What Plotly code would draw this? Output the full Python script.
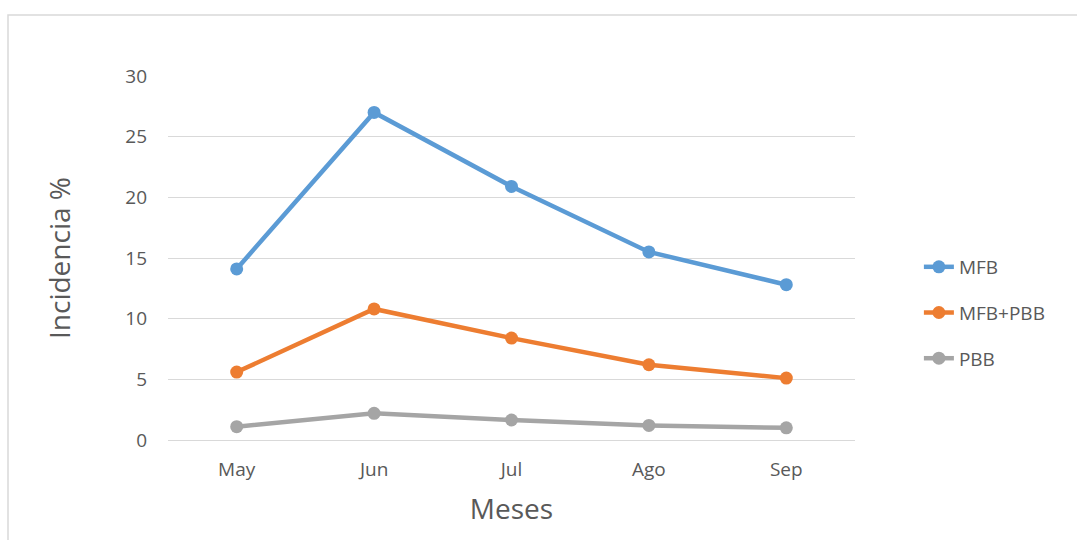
import plotly.graph_objects as go

months = ["May", "Jun", "Jul", "Ago", "Sep"]
mfb = [14.1, 27.0, 20.9, 15.5, 12.8]
mfb_pbb = [5.6, 10.8, 8.4, 6.2, 5.1]
pbb = [1.1, 2.2, 1.65, 1.2, 1.0]

series = [("MFB", mfb, "#5b9bd5"), ("MFB+PBB", mfb_pbb, "#ed7d31"), ("PBB", pbb, "#a5a5a5")]

fig = go.Figure()
for i, (name, vals, col) in enumerate(series):
    fig.add_trace(go.Scatter(
        x=months, y=vals, name=name, mode="lines+markers",
        line=dict(color=col, width=4.5),
        marker=dict(color=col, size=13),
        legendgroup=f"g{i}",
    ))

font = "Open Sans, Liberation Sans, sans-serif"
fig.update_layout(
    width=1077, height=540,
    margin=dict(l=168, r=222, t=76, b=100, autoexpand=False),
    paper_bgcolor="white", plot_bgcolor="white",
    font=dict(family=font, color="#595959", size=19),
    showlegend=True,
    legend=dict(x=1.093, y=0.349, xanchor="left", yanchor="middle",
                font=dict(size=19, color="#595959"), tracegroupgap=18,
                bgcolor="rgba(0,0,0,0)"),
    xaxis=dict(type="category", range=[-0.5, 4.5], showgrid=False, showline=False,
               ticks="", ticklabelstandoff=16, tickfont=dict(size=19, color="#595959"),
               title=dict(text="Meses", font=dict(size=28, color="#595959"), standoff=18)),
    yaxis=dict(range=[0, 30], dtick=5, showgrid=True, gridcolor="#d9d9d9", gridwidth=1,
               zeroline=True, zerolinecolor="#d9d9d9", zerolinewidth=1,
               showline=False, ticks="", ticklabelstandoff=20,
               tickfont=dict(size=19, color="#595959"),
               title=dict(text="Incidencia %", font=dict(size=28, color="#595959"), standoff=46)),
    shapes=[dict(type="rect", xref="paper", yref="paper",
                 x0=(8-168)/687, x1=(1085-168)/687, y0=(440-550)/364, y1=(440-15)/364,
                 line=dict(color="#d9d9d9", width=1.5), fillcolor="rgba(0,0,0,0)", layer="below")],
)
fig.write_html("out.html", config={"displayModeBar": False},
               post_script="document.body.style.margin='0';")
